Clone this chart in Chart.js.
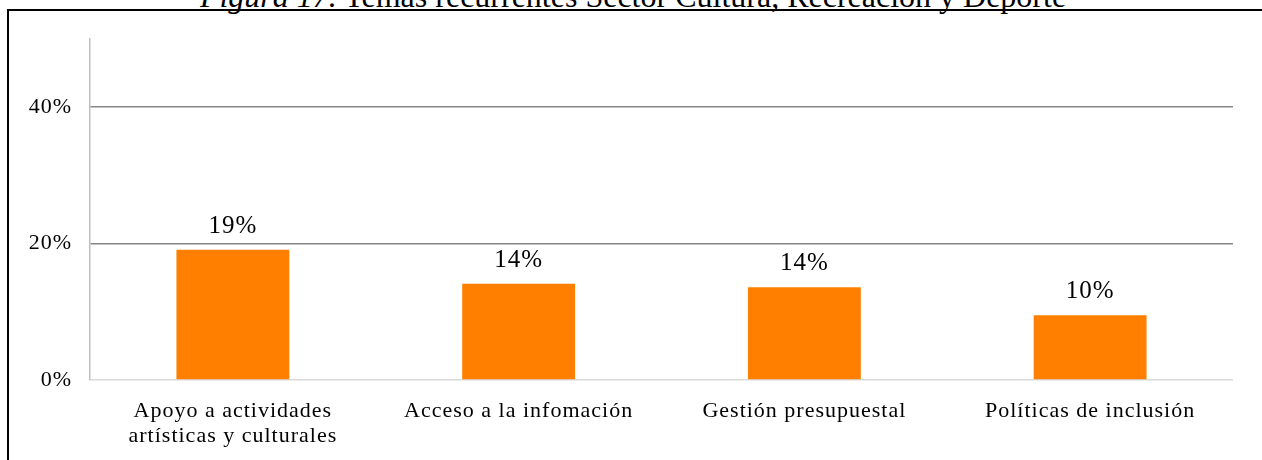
<!DOCTYPE html>
<html>
<head>
<meta charset="utf-8">
<script src="https://cdn.jsdelivr.net/npm/chart.js@4"></script>
<style>
  html, body { margin:0; padding:0; background:#fff; }
  body { width:1262px; height:460px; position:relative; overflow:hidden; }
  #title { position:absolute; left:0; width:1266px; text-align:center; top:-20px; line-height:32px;
           font-family:"Liberation Serif","Times New Roman",serif; font-size:32px; color:#000; white-space:nowrap; }
  #topline { position:absolute; left:8px; top:9px; width:1254px; height:2px; background:#000; }
  #leftline { position:absolute; left:7px; top:9px; width:2px; height:451px; background:#000; }
  #wrap { position:absolute; left:0; top:0; width:1262px; height:460px; }
</style>
</head>
<body>
<div id="title"><i>Figura 17.</i> Temas recurrentes Sector Cultura, Recreación y Deporte</div>
<div id="topline"></div>
<div id="leftline"></div>
<div id="wrap"><canvas id="c" width="1262" height="460"></canvas></div>
<script>
const categories = [["Apoyo a actividades", "artísticas y culturales"], "Acceso a la infomación", "Gestión presupuestal", "Políticas de inclusión"];
const values = [19.1, 14.1, 13.6, 9.5];
const valueLabels = ["19%", "14%", "14%", "10%"];
const yTicks = [0, 20, 40];

const serif = '"Liberation Serif","Times New Roman",serif';

const spacing = {
  id: 'spacing',
  beforeInit(chart) { chart.ctx.letterSpacing = '1px'; },
  beforeUpdate(chart) { chart.ctx.letterSpacing = '1px'; },
  beforeDraw(chart) { chart.ctx.letterSpacing = '1px'; }
};

const dataLabels = {
  id: 'dataLabels',
  afterDatasetsDraw(chart) {
    const ctx = chart.ctx;
    const meta = chart.getDatasetMeta(0);
    ctx.save();
    ctx.font = '25px ' + serif;
    ctx.fillStyle = '#000';
    ctx.textAlign = 'center';
    ctx.textBaseline = 'alphabetic';
    meta.data.forEach((bar, i) => {
      ctx.fillText(valueLabels[i], bar.x, bar.y - 17);
    });
    ctx.restore();
  }
};

new Chart(document.getElementById('c'), {
  type: 'bar',
  data: {
    labels: categories,
    datasets: [{
      data: values,
      backgroundColor: '#ff8000',
      borderWidth: 0,
      barPercentage: 0.79,
      categoryPercentage: 0.5
    }]
  },
  options: {
    responsive: false,
    animation: false,
    events: [],
    layout: { padding: { top: 39, right: 29, left: 0, bottom: 0 } },
    plugins: { legend: { display: false }, tooltip: { enabled: false }, title: { display: false } },
    scales: {
      x: {
        grid: { display: false, drawTicks: false },
        border: { display: false },
        ticks: { color: '#000', font: { family: serif, size: 22, lineHeight: 1.14 }, padding: 19, maxRotation: 0, autoSkip: false },
        afterFit(scale) { scale.height = 80; }
      },
      y: {
        min: 0, max: 50,
        afterBuildTicks(scale) { scale.ticks = yTicks.map(v => ({ value: v })).concat([{ value: 50 }]); },
        grid: {
          drawTicks: false,
          color(ctx) {
            const v = ctx.tick ? ctx.tick.value : null;
            if (v === 0) return '#d9d9d9';
            if (v === 50) return 'rgba(0,0,0,0)';
            return '#868686';
          },
          lineWidth: 1.5
        },
        border: { display: true, color: '#bfbfbf', width: 1.5 },
        ticks: {
          color: '#000', font: { family: serif, size: 22 }, padding: 18,
          callback: (v) => v === 50 ? '' : v + '%'
        },
        afterFit(scale) { scale.width = 90; }
      }
    }
  },
  plugins: [spacing, dataLabels]
});
</script>
</body>
</html>
